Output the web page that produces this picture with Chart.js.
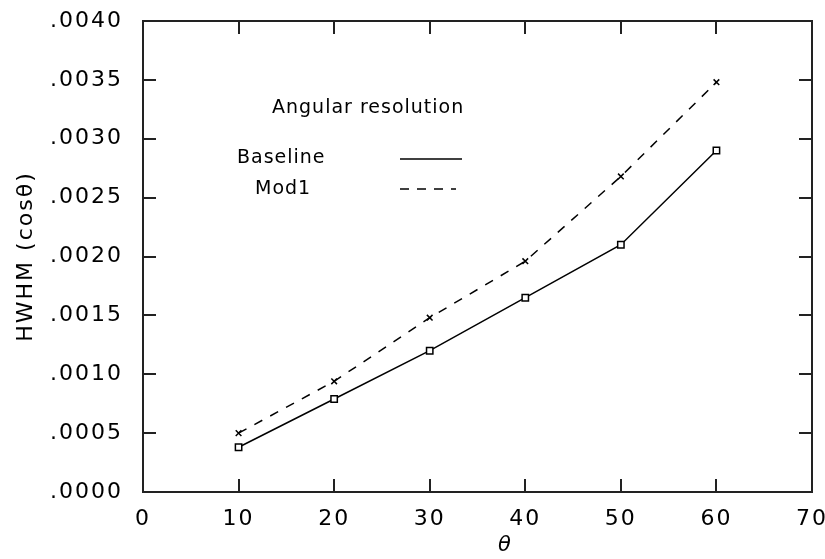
<!DOCTYPE html>
<html>
<head>
<meta charset="utf-8">
<script src="https://cdn.jsdelivr.net/npm/chart.js@4.4.1/dist/chart.umd.min.js"></script>
<style>
  html, body { margin: 0; padding: 0; background: #fff; }
  #wrap { width: 825px; height: 559px; }
</style>
</head>
<body>
<div id="wrap"><canvas id="hwhm"></canvas></div>
<script>
// data
const thetaValues = [10, 20, 30, 40, 50, 60];
const baselineHwhm = [0.00038, 0.00079, 0.0012, 0.00165, 0.0021, 0.0029];
const mod1Hwhm = [0.0005, 0.00094, 0.00148, 0.00196, 0.00268, 0.00348];
const seriesNames = ["Baseline", "Mod1"];
const legendTitle = "Angular resolution";
const xTickValues = [0, 10, 20, 30, 40, 50, 60, 70];
const yTickValues = [0, 0.0005, 0.001, 0.0015, 0.002, 0.0025, 0.003, 0.0035, 0.004];

const FONT = "'DejaVu Sans', sans-serif";

const toPoints = (xs, ys) => xs.map((x, i) => ({ x: x, y: ys[i] }));

// old plot program look: a bit of spacing between letters
const spacingPlugin = {
    id: "spacing",
    beforeDraw(chart) {
        chart.ctx.letterSpacing = "2px";
    }
};

// frame with inward ticks on all four sides
const framePlugin = {
    id: "frame",
    afterDraw(chart) {
        const { ctx, chartArea: a, scales } = chart;
        ctx.save();
        ctx.strokeStyle = "#222";
        ctx.lineWidth = 2;
        ctx.strokeRect(a.left, a.top, a.right - a.left, a.bottom - a.top);
        const len = 13;
        ctx.beginPath();
        xTickValues.slice(1, -1).forEach(v => {
            const px = Math.round(scales.x.getPixelForValue(v));
            ctx.moveTo(px, a.bottom); ctx.lineTo(px, a.bottom - len);
            ctx.moveTo(px, a.top); ctx.lineTo(px, a.top + len);
        });
        yTickValues.slice(1, -1).forEach(v => {
            const py = Math.round(scales.y.getPixelForValue(v));
            ctx.moveTo(a.left, py); ctx.lineTo(a.left + len, py);
            ctx.moveTo(a.right, py); ctx.lineTo(a.right - len, py);
        });
        ctx.stroke();
        ctx.restore();
    }
};

// legend block inside the plot, plus the theta under the x axis
const legendPlugin = {
    id: "innerLegend",
    afterDraw(chart) {
        const ctx = chart.ctx;
        ctx.save();
        ctx.letterSpacing = "1px";
        ctx.fillStyle = "#000";
        ctx.font = "19px " + FONT;
        ctx.textBaseline = "middle";
        ctx.textAlign = "left";
        ctx.fillText(legendTitle, 272, 108);
        ctx.fillText(seriesNames[0], 237, 158);
        ctx.fillText(seriesNames[1], 255, 189);
        ctx.strokeStyle = "#000";
        ctx.lineWidth = 1.5;
        ctx.beginPath();
        ctx.moveTo(400, 159); ctx.lineTo(462, 159);
        ctx.stroke();
        ctx.setLineDash([9, 8]);
        ctx.beginPath();
        ctx.moveTo(400, 189); ctx.lineTo(456, 189);
        ctx.stroke();
        ctx.setLineDash([]);
        ctx.font = "italic 21px " + FONT;
        ctx.textAlign = "center";
        ctx.fillText("θ", 505, 546);
        ctx.restore();
    }
};

const data = {
    datasets: [
        {
            label: seriesNames[0],
            data: toPoints(thetaValues, baselineHwhm),
            borderColor: "#000",
            borderWidth: 1.5,
            pointStyle: "rect",
            pointRadius: 4.5,
            pointBackgroundColor: "#fff",
            pointBorderColor: "#000",
            pointBorderWidth: 1.5,
        },
        {
            label: seriesNames[1],
            data: toPoints(thetaValues, mod1Hwhm),
            borderColor: "#000",
            borderWidth: 1.5,
            borderDash: [9, 9],
            pointStyle: "crossRot",
            pointRadius: 4,
            pointBorderColor: "#000",
            pointBorderWidth: 1.5,
        },
    ],
};

const config = {
    type: "line",
    data,
    options: {
        responsive: false,
        animation: false,
        events: [],
        layout: { padding: { top: 21, right: 13, left: 0, bottom: 0 } },
        plugins: { legend: { display: false }, tooltip: { enabled: false } },
        scales: {
            x: {
                type: "linear",
                min: 0,
                max: 70,
                afterBuildTicks: s => { s.ticks = xTickValues.map(v => ({ value: v })); },
                afterFit: s => { s.height = 67; s.paddingLeft = 0; s.paddingRight = 0; },
                grid: { display: false, drawTicks: false },
                border: { display: false },
                ticks: { color: "#000", padding: 14, font: { family: FONT, size: 22 } },
            },
            y: {
                type: "linear",
                min: 0,
                max: 0.004,
                afterBuildTicks: s => { s.ticks = yTickValues.map(v => ({ value: v })); },
                afterFit: s => { s.width = 143; s.paddingTop = 0; s.paddingBottom = 0; },
                grid: { display: false, drawTicks: false },
                border: { display: false },
                ticks: {
                    color: "#000",
                    padding: 20,
                    font: { family: FONT, size: 22 },
                    callback: v => v.toFixed(4).replace(/^0/, ""),
                },
                title: {
                    display: true,
                    text: "HWHM (cosθ)",
                    color: "#000",
                    padding: { top: 13, bottom: 0 },
                    font: { family: FONT, size: 22 },
                },
            },
        },
    },
    plugins: [spacingPlugin, framePlugin, legendPlugin],
};

const canvas = document.getElementById("hwhm");
canvas.width = 825;
canvas.height = 559;
new Chart(canvas, config);
</script>
</body>
</html>
